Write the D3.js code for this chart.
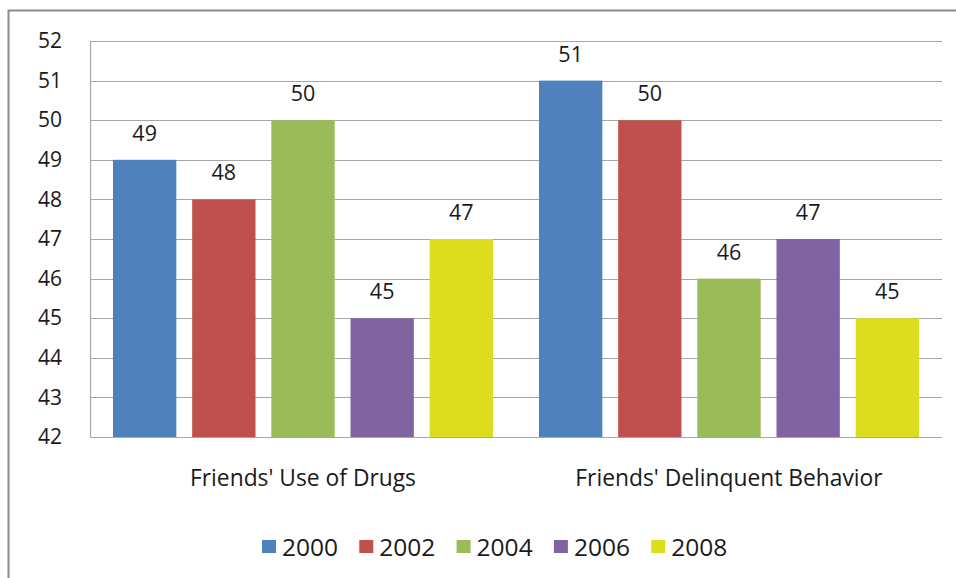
<!DOCTYPE html>
<html>
<head>
<meta charset="utf-8">
<script src="https://cdn.jsdelivr.net/npm/d3@7"></script>
<style>
  body { margin: 0; background: #fff; }
  text { font-family: "Open Sans", "Liberation Sans", sans-serif; fill: #1a1a1a; }
</style>
</head>
<body>
<div id="chart"></div>
<script>
var categories = ["Friends' Use of Drugs", "Friends' Delinquent Behavior"];
var years = ["2000", "2002", "2004", "2006", "2008"];
var values2000 = [49, 51];
var values2002 = [48, 50];
var values2004 = [50, 46];
var values2006 = [45, 47];
var values2008 = [47, 45];
var yTicks = [42, 43, 44, 45, 46, 47, 48, 49, 50, 51, 52];
var colors = ["#4F81BD", "#C0504D", "#9BBB59", "#8064A2", "#DCDD1F"];

var seriesValues = [values2000, values2002, values2004, values2006, values2008];

var width = 956, height = 578;
var margin = {top: 41, right: 14, bottom: 141, left: 90},
    width_g = width - margin.left - margin.right,
    height_g = height - margin.top - margin.bottom;

var svg = d3.select("#chart").append("svg")
    .attr("width", width)
    .attr("height", height);

// outer frame (runs off the right and bottom edges)
svg.append("rect")
    .attr("x", 8.5).attr("y", 10.5)
    .attr("width", 960).attr("height", 580)
    .attr("fill", "none")
    .attr("stroke", "#8c8c8c")
    .attr("stroke-width", 2);

var x0 = d3.scaleBand()
    .domain(categories)
    .range([0, width_g]);

var x1 = d3.scaleBand()
    .domain(years)
    .range([23, x0.bandwidth() - 23])
    .paddingInner(0.2);

var y = d3.scaleLinear()
    .domain([42, 52])
    .range([height_g, 0]);

var g = svg.append("g")
    .attr("transform", "translate(" + margin.left + "," + margin.top + ")");

// gridlines
g.append("g").selectAll("line")
    .data(yTicks)
    .enter().append("line")
    .attr("x1", 0).attr("x2", width_g)
    .attr("y1", function(d) { return Math.round(y(d)) + 0.5; })
    .attr("y2", function(d) { return Math.round(y(d)) + 0.5; })
    .attr("stroke", "#a6a6a6")
    .attr("stroke-width", 1.2);

// y axis
var yAxis = d3.axisLeft(y)
    .tickValues(yTicks)
    .tickSize(0)
    .tickPadding(28);
var ya = g.append("g").call(yAxis);
ya.select(".domain").attr("stroke", "#a6a6a6").attr("stroke-width", 1.2);
ya.selectAll("text")
    .attr("font-size", 21)
    .style("font-family", "'Open Sans', sans-serif")
    .attr("fill", "#1a1a1a");

// bars
var groups = g.selectAll(".cat")
    .data(categories)
    .enter().append("g")
    .attr("class", "cat")
    .attr("transform", function(d) { return "translate(" + x0(d) + ",0)"; });

var bars = groups.selectAll(".bar")
    .data(function(d, ci) {
        return years.map(function(yr, si) {
            return {year: yr, value: seriesValues[si][ci], color: colors[si]};
        });
    })
    .enter().append("g")
    .attr("class", "bar");

bars.append("rect")
    .attr("x", function(d) { return x1(d.year); })
    .attr("y", function(d) { return y(d.value); })
    .attr("width", x1.bandwidth())
    .attr("height", function(d) { return height_g - y(d.value); })
    .attr("fill", function(d) { return d.color; });

bars.append("text")
    .attr("x", function(d) { return x1(d.year) + x1.bandwidth() / 2; })
    .attr("y", function(d) { return y(d.value) - 19; })
    .attr("text-anchor", "middle")
    .attr("font-size", 21.5)
    .text(function(d) { return d.value; });

// baseline
g.append("line")
    .attr("x1", 0).attr("x2", width_g)
    .attr("y1", height_g + 0.5).attr("y2", height_g + 0.5)
    .attr("stroke", "#a6a6a6")
    .attr("stroke-width", 1.2);

// category labels
g.selectAll(".catlabel")
    .data(categories)
    .enter().append("text")
    .attr("class", "catlabel")
    .attr("x", function(d) { return x0(d) + x0.bandwidth() / 2; })
    .attr("y", height_g + 49)
    .attr("text-anchor", "middle")
    .attr("font-size", 22.8)
    .text(function(d) { return d; });

// legend
var legend = svg.append("g")
    .attr("transform", "translate(262,540)");
var items = legend.selectAll(".item")
    .data(years)
    .enter().append("g")
    .attr("class", "item")
    .attr("transform", function(d, i) { return "translate(" + (i * 97.3) + ",0)"; });
items.append("rect")
    .attr("width", 14).attr("height", 13)
    .attr("fill", function(d, i) { return colors[i]; });
items.append("text")
    .attr("x", 20).attr("y", 16)
    .attr("font-size", 24.5)
    .text(function(d) { return d; });
</script>
</body>
</html>
